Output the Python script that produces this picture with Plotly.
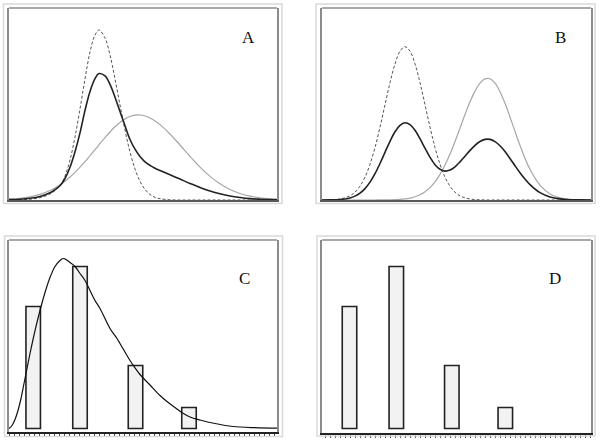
import plotly.graph_objects as go

W, H = 600, 442

# ---- panel A: two components and their mixture ----
a_x = [0.9, 2.0, 3.0, 4.0, 5.0, 5.5, 6.0, 6.5, 7.0, 7.5, 8.0, 8.5, 9.0, 9.5, 9.9,
       10.5, 11.0, 11.5, 12.0, 12.5, 13.0, 13.5, 14.0, 14.5, 15.0, 15.5, 16.0,
       17.0, 18.0, 19.0, 20.0, 21.0, 22.0, 23.0, 24.0, 25.0, 26.0, 27.0, 27.7]
a_narrow = [0.01, 0.03, 0.08, 0.23, 0.6, 0.95, 1.4, 2.4, 4.0, 6.3, 9.1, 12.1, 14.8,
            16.5, 17.0, 16.2, 14.5, 12.1, 9.5, 7.0, 4.8, 3.1, 1.87, 1.05, 0.56,
            0.26, 0.13, 0.02, 0, 0, 0, 0, 0, 0, 0, 0, 0, 0, 0]
a_wide = [0.08, 0.16, 0.31, 0.56, 0.95, 1.21, 1.52, 1.88, 2.3, 2.76, 3.28, 3.83,
          4.43, 5.03, 5.52, 6.24, 6.8, 7.32, 7.75, 8.1, 8.35, 8.48, 8.5, 8.4, 8.2,
          7.91, 7.54, 6.6, 5.5, 4.36, 3.29, 2.36, 1.62, 1.05, 0.65, 0.38, 0.22,
          0.12, 0.08]
a_mix = [0.04, 0.08, 0.17, 0.35, 0.72, 1.03, 1.42, 2.15, 3.27, 4.83, 6.71, 8.96,
         10.86, 12.14, 12.64, 12.41, 11.57, 10.28, 8.84, 7.42, 6.05, 5.08, 4.35,
         3.82, 3.46, 3.17, 2.95, 2.52, 2.09, 1.66, 1.25, 0.9, 0.62, 0.4, 0.25,
         0.14, 0.08, 0.04, 0.03]

# ---- panel B: two separated components and their mixture ----
b_x = [0.2, 1.0, 2.0, 3.0, 3.5, 4.0, 4.5, 5.0, 5.5, 6.0, 6.5, 7.0, 7.5, 8.0, 8.5,
       9.0, 9.5, 10.0, 10.5, 11.0, 11.5, 12.0, 12.5, 13.0, 13.5, 14.0, 14.5, 15.0,
       15.5, 16.0, 16.5, 17.0, 17.5, 18.0, 18.5, 19.0, 19.5, 20.0, 20.5, 21.0,
       22.0, 23.0, 24.0, 25.0, 26.0, 27.1]
b_left = [0.004, 0.02, 0.1, 0.42, 0.78, 1.38, 2.28, 3.57, 5.25, 7.29, 9.53, 11.73,
          13.61, 14.88, 15.33, 14.88, 13.61, 11.73, 9.53, 7.29, 5.25, 3.57, 2.28,
          1.38, 0.78, 0.42, 0.21, 0.1, 0.045, 0.02, 0.007, 0, 0, 0, 0, 0, 0, 0, 0,
          0, 0, 0, 0, 0, 0, 0]
b_right = [0, 0, 0, 0, 0, 0, 0, 0, 0.002, 0.004, 0.009, 0.017, 0.034, 0.062, 0.11,
           0.19, 0.32, 0.52, 0.82, 1.24, 1.81, 2.56, 3.49, 4.59, 5.85, 7.19, 8.55,
           9.82, 10.89, 11.69, 12.11, 12.12, 11.68, 10.83, 9.67, 8.3, 6.86, 5.46,
           4.17, 3.07, 1.48, 0.61, 0.22, 0.067, 0.017, 0.003]
b_mix = [0.002, 0.01, 0.05, 0.21, 0.39, 0.69, 1.14, 1.79, 2.63, 3.65, 4.77, 5.87,
         6.82, 7.47, 7.72, 7.54, 6.97, 6.13, 5.18, 4.27, 3.53, 3.07, 2.89, 2.99,
         3.32, 3.81, 4.38, 4.96, 5.47, 5.85, 6.06, 6.06, 5.84, 5.42, 4.84, 4.15,
         3.43, 2.73, 2.09, 1.54, 0.74, 0.31, 0.11, 0.03, 0.01, 0]

# ---- panels C and D: counts, with a fitted curve in C ----
bar_x = [3.32, 8.0, 13.55, 18.9]
bar_h = [12.2, 16.2, 6.3, 2.1]
c_x = [0.9, 1.2, 1.5, 1.8, 2.1, 2.4, 2.7, 3.0, 3.3, 3.6, 4.0, 4.5, 5.0, 5.5, 6.0,
       6.3, 6.6, 7.0, 7.5, 8.0, 8.5, 9.0, 9.5, 10.0, 11.0, 11.7, 12.0, 13.0, 13.3,
       14.0, 15.0, 16.0, 16.7, 17.5, 18.3, 19.0, 20.0, 21.5, 23.3, 25.5, 27.7]
c_y = [0, 0.3, 0.9, 1.8, 3.0, 4.5, 6.0, 7.5, 8.9, 10.2, 11.8, 13.6, 15.1, 16.2,
       16.8, 17.0, 16.9, 16.6, 16.2, 15.5, 14.8, 13.8, 12.8, 12.0, 10.0, 9.0, 8.5,
       6.8, 6.35, 5.4, 4.35, 3.3, 2.7, 2.1, 1.52, 1.15, 0.85, 0.5, 0.2, 0.08, 0.03]

labels = ["A", "B", "C", "D"]


def px_x(p):
    return p / W


def px_y(p):
    return 1 - p / H


# inner plot boxes (left, right, top, bottom) in page pixels
boxes = [(9, 277, 8, 200), (322, 591, 8, 200),
         (9, 277, 240, 432.3), (322, 591, 240, 433)]
# outer light frames
frames = [(3.5, 282, 4, 203.5), (316, 595, 4, 203.5),
          (4.5, 282.5, 236, 436.5), (317, 595, 236, 436)]
x_ranges = [[0.9, 27.7], [0.2, 27.1], [0.9, 27.7], [0.57, 27.47]]
y_ranges = [[0, 19.2], [0, 19.2], [-0.38, 18.85], [-0.45, 18.85]]
# panel letters, centre in page pixels
label_pos = [(248, 37), (560, 37), (244, 278), (555, 278)]

fig = go.Figure()

dash_line = dict(color="#555555", width=1, dash="3px,2px")
gray_line = dict(color="#a6a6a6", width=1.2)
dark_line = dict(color="#222222", width=1.6)

fig.add_trace(go.Scatter(x=a_x, y=a_narrow, mode="lines", line=dash_line,
                         line_shape="spline", xaxis="x", yaxis="y"))
fig.add_trace(go.Scatter(x=a_x, y=a_wide, mode="lines", line=gray_line,
                         line_shape="spline", xaxis="x", yaxis="y"))
fig.add_trace(go.Scatter(x=a_x, y=a_mix, mode="lines", line=dark_line,
                         line_shape="spline", xaxis="x", yaxis="y"))

fig.add_trace(go.Scatter(x=b_x, y=b_left, mode="lines", line=dash_line,
                         line_shape="spline", xaxis="x2", yaxis="y2"))
fig.add_trace(go.Scatter(x=b_x, y=b_right, mode="lines", line=gray_line,
                         line_shape="spline", xaxis="x2", yaxis="y2"))
fig.add_trace(go.Scatter(x=b_x, y=b_mix, mode="lines", line=dark_line,
                         line_shape="spline", xaxis="x2", yaxis="y2"))

bar_style = dict(color="#f2f2f2", line=dict(color="#222222", width=1.6))
fig.add_trace(go.Bar(x=bar_x, y=bar_h, width=1.45, marker=bar_style,
                     xaxis="x3", yaxis="y3"))
fig.add_trace(go.Scatter(x=c_x, y=c_y, mode="lines", line_shape="spline",
                         line=dict(color="#111111", width=1.2),
                         xaxis="x3", yaxis="y3"))
fig.add_trace(go.Bar(x=bar_x, y=bar_h, width=1.45, marker=bar_style,
                     xaxis="x4", yaxis="y4"))

layout = dict(width=W, height=H, showlegend=False,
              margin=dict(l=0, r=0, t=0, b=0),
              paper_bgcolor="white", plot_bgcolor="white")
shapes = []
annotations = []
for i in range(4):
    n = "" if i == 0 else str(i + 1)
    left, right, top, bottom = boxes[i]
    ticked = i >= 2
    layout["xaxis" + n] = dict(
        domain=[px_x(left), px_x(right)], range=x_ranges[i], anchor="y" + n,
        showgrid=False, zeroline=False, showticklabels=False,
        showline=True, linewidth=1.5,
        linecolor="#222222" if ticked else "#5a5a5a",
        ticks="outside" if ticked else "", ticklen=3, tickwidth=1,
        tickcolor="#444444", tickmode="linear", tick0=0.9, dtick=0.5)
    layout["yaxis" + n] = dict(
        domain=[px_y(bottom), px_y(top)], range=y_ranges[i], anchor="x" + n,
        showgrid=False, zeroline=False, showticklabels=False, ticks="",
        showline=True, mirror=True, linewidth=1.5, linecolor="#8c8c8c")
    # top edge of the inner box
    shapes.append(dict(type="line", xref="paper", yref="paper",
                       x0=px_x(left), x1=px_x(right), y0=px_y(top), y1=px_y(top),
                       line=dict(color="#8c8c8c", width=1.5)))
    fl, fr, ft, fb = frames[i]
    shapes.append(dict(type="rect", xref="paper", yref="paper",
                       x0=px_x(fl), x1=px_x(fr), y0=px_y(fb), y1=px_y(ft),
                       line=dict(color="#d9d9d9", width=1.5)))
    lx, ly = label_pos[i]
    annotations.append(dict(text=labels[i], xref="paper", yref="paper",
                            x=px_x(lx), y=px_y(ly), xanchor="center",
                            yanchor="middle", showarrow=False,
                            font=dict(family="Liberation Serif", size=17,
                                      color="#111111")))
layout["shapes"] = shapes
layout["annotations"] = annotations
fig.update_layout(**layout)

# drop the default body margin so the figure sits in the page corner
fig.write_html("out.html", config={"displayModeBar": False},
               post_script="document.body.style.margin = '0';")
